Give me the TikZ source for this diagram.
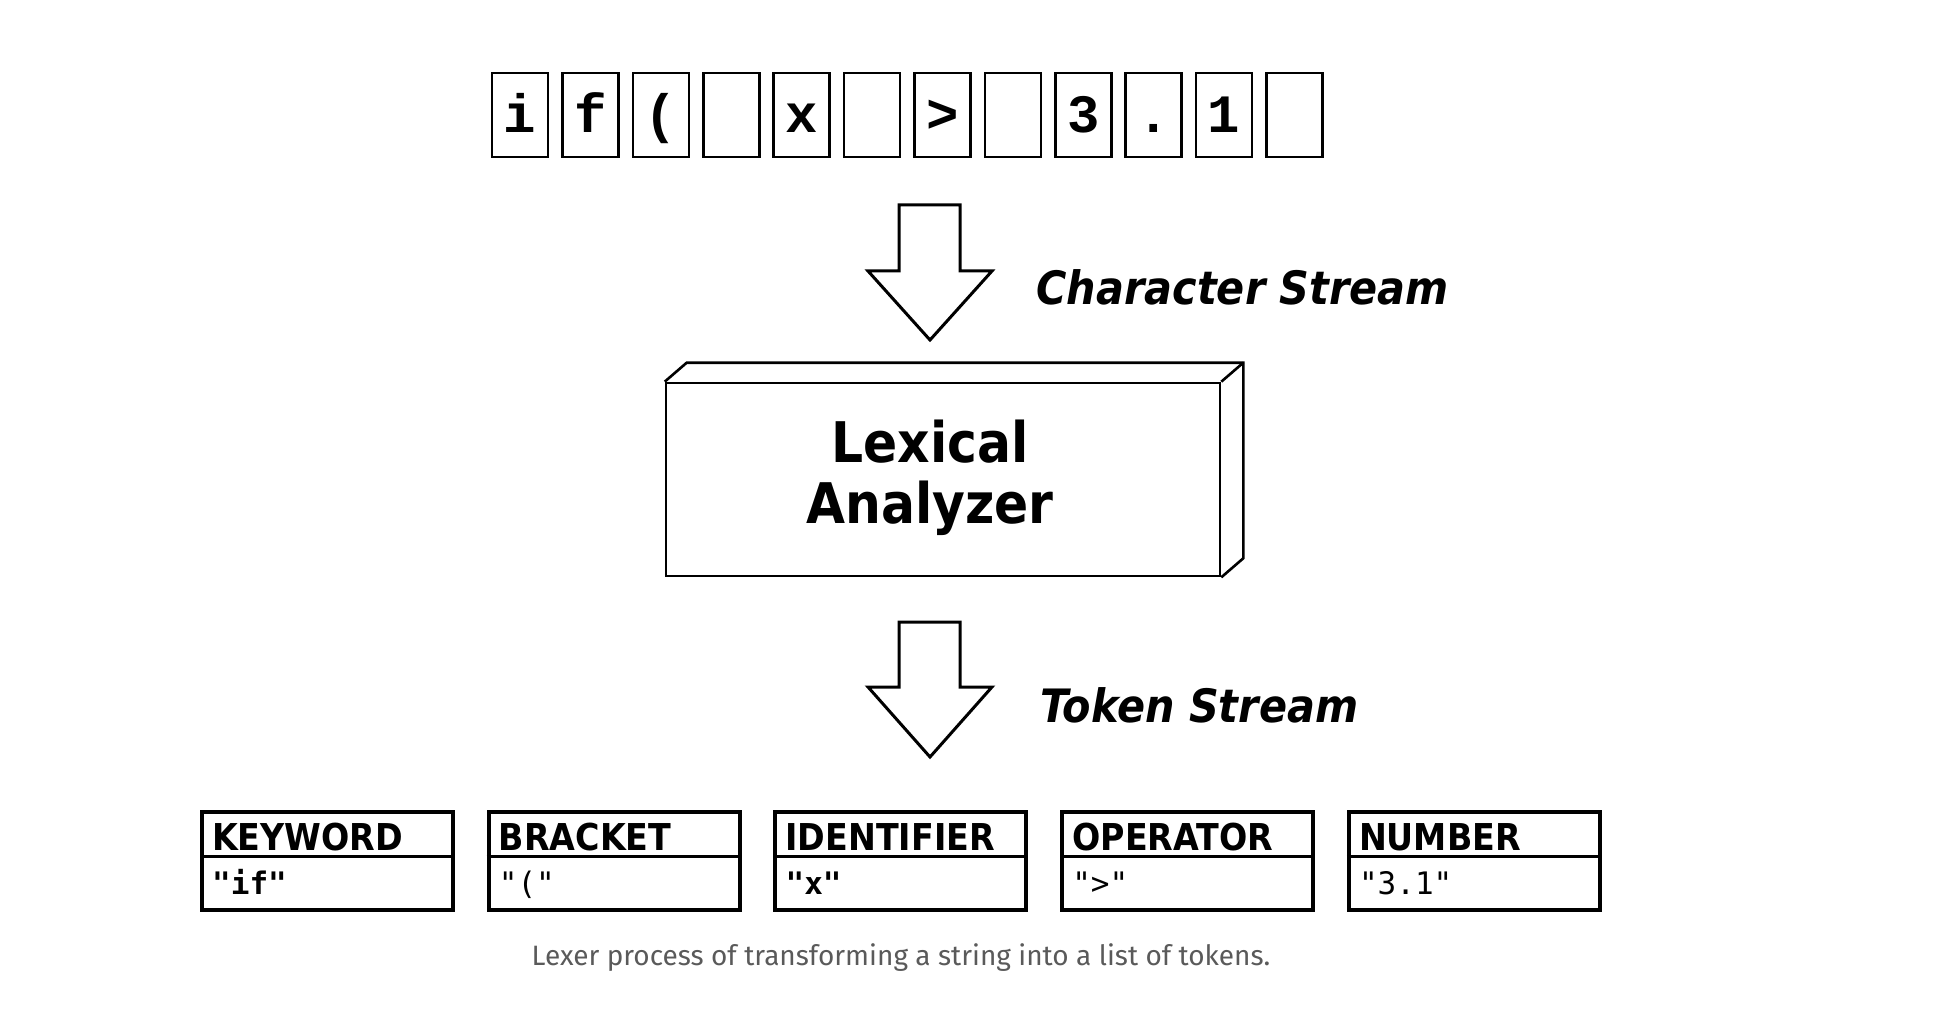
\documentclass[tikz,border=0pt]{standalone}
\usepackage{fontspec}
\usetikzlibrary{calc}
\setmainfont{DejaVu Sans}
\newfontfamily\condfont{DejaVu Sans Condensed}
\newfontfamily\charfont{Liberation Mono}
\newfontfamily\valfont{DejaVu Sans Mono}
\newfontfamily\capfont{Fira Sans}
\definecolor{capgray}{HTML}{5A5A5A}
\tikzset{
  charbox/.style={draw, line width=2.6pt, minimum width=56pt, inner xsep=0pt, inner ysep=0pt,
    text height=60pt, text depth=24pt, font=\charfont\bfseries\fontsize{54}{60}\selectfont},
  lexbox/.style={draw, line width=2.6pt, minimum width=554pt, minimum height=193pt, inner sep=0pt},
  lexlabel/.style={anchor=base, font=\condfont\bfseries\fontsize{56}{64}\selectfont},
  streamlabel/.style={anchor=base west, font=\condfont\bfseries\itshape\fontsize{46}{54}\selectfont},
  bigarrow/.style={draw, line width=3pt, line join=miter, fill=white},
  tokbox/.style={draw, line width=4pt, minimum width=251pt, minimum height=98pt, inner sep=0pt},
  tokhead/.style={anchor=base west, inner sep=0pt, font=\condfont\bfseries\fontsize{37}{44}\selectfont},
  tokval/.style={anchor=base west, inner sep=0pt, font=\valfont\fontsize{31}{36}\selectfont},
  caption/.style={anchor=base, inner sep=0pt, text=capgray, font=\capfont\fontsize{28}{34}\selectfont}
}
\begin{document}
\begin{tikzpicture}[x=1pt,y=-1pt]
\useasboundingbox[fill=white] (0,0) rectangle (1952,1032);

% character stream boxes
\node[charbox] (c1)  at (520.0,115) {i};
\node[charbox] (c2)  at (590.4,115) {f};
\node[charbox] (c3)  at (660.8,115) {(};
\node[charbox] (c4)  at (731.2,115) {};
\node[charbox] (c5)  at (801.6,115) {x};
\node[charbox] (c6)  at (872.0,115) {};
\node[charbox] (c7)  at (942.4,115) {>};
\node[charbox] (c8)  at (1012.8,115) {};
\node[charbox] (c9)  at (1083.2,115) {3};
\node[charbox] (c10) at (1153.6,115) {.};
\node[charbox] (c11) at (1224.0,115) {1};
\node[charbox] (c12) at (1294.4,115) {};

% arrow 1
\draw[bigarrow] (899,205) -- (960,205) -- (960,271) -- (992,271) -- (930,340) -- (868,271) -- (899,271) -- cycle;
\node[streamlabel] (cs) at (1033,305) {Character Stream};

% lexical analyzer box
\node[lexbox] (lex) at (943,479.5) {};
\draw[line width=2.6pt, line join=miter] (lex.north west) -- ++(22,-19) coordinate (bnw)
  -- ($(lex.north east)+(22,-19)$) coordinate (bne)
  -- ($(lex.south east)+(22,-19)$) coordinate (bse) -- (lex.south east);
\draw[line width=2.6pt] (lex.north east) -- (bne);
\node[lexlabel] (lexA) at (930,462) {Lexical};
\node[lexlabel] (lexB) at (930,523) {Analyzer};

% arrow 2
\draw[bigarrow] (899,622) -- (960,622) -- (960,687) -- (992,687) -- (930,757) -- (868,687) -- (899,687) -- cycle;
\node[streamlabel] (ts) at (1037,722) {Token Stream};

% token boxes
\foreach \j/\h/\v in {0/KEYWORD/{\bfseries"if"},1/BRACKET/{"("},2/IDENTIFIER/{\bfseries"x"},3/OPERATOR/{">"},4/NUMBER/{"3.1"}}{
  \pgfmathsetmacro{\cx}{327.5+286.7*\j}
  \node[tokbox] (t\j) at (\cx,861) {};
  \draw[line width=3pt] (t\j.west |- 0,856.5) -- (t\j.east |- 0,856.5);
  \node[tokhead] (h\j) at ($(t\j.west)+(12,-11)$) {\h};
  \node[tokval] (v\j) at ($(t\j.west)+(12,33)$) {\v};
}

\node[caption] (cap) at (901,965) {Lexer process of transforming a string into a list of tokens.};
\end{tikzpicture}
\end{document}
